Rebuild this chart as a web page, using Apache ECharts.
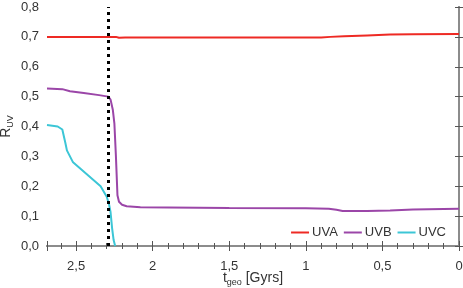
<!DOCTYPE html>
<html><head><meta charset="utf-8">
<script src="https://cdn.jsdelivr.net/npm/echarts@6/dist/echarts.min.js"></script>
<style>html,body{margin:0;padding:0;background:#fff}#c{width:463px;height:288px}</style>
</head><body><div id="c"></div>
<script>
var uva = [[2.69,0.700],[2.30,0.700],[2.24,0.700],[2.22,0.697],[2.18,0.698],[1.5,0.698],[0.9,0.698],[0.84,0.700],[0.75,0.702],[0.6,0.705],[0.45,0.708],[0.3,0.709],[0.0,0.710]];
var uvb = [[2.69,0.527],[2.59,0.525],[2.54,0.518],[2.45,0.512],[2.35,0.505],[2.29,0.500],[2.275,0.490],[2.26,0.455],[2.25,0.410],[2.24,0.300],[2.23,0.170],[2.22,0.148],[2.20,0.138],[2.17,0.133],[2.08,0.130],[1.9,0.129],[1.5,0.127],[1.0,0.126],[0.85,0.125],[0.80,0.121],[0.76,0.117],[0.6,0.117],[0.45,0.119],[0.3,0.122],[0.0,0.125]];
var uvc = [[2.69,0.405],[2.62,0.400],[2.59,0.390],[2.57,0.345],[2.56,0.320],[2.52,0.280],[2.43,0.240],[2.34,0.200],[2.30,0.165],[2.285,0.140],[2.275,0.113],[2.265,0.060],[2.255,0.020],[2.245,0.000]];
var yTicks = ['0,0','0,1','0,2','0,3','0,4','0,5','0,6','0,7','0,8'];
var xTickVals = [0,0.5,1,1.5,2,2.5];
var xTickText = ['0','0,5','1','1,5','2','2,5'];
var dashedX = 2.29;

var chart = echarts.init(document.getElementById('c'), null, {renderer:'canvas'});
var axisCol = '#8c8c8c';
function fmtX(v){ var i = xTickVals.findIndex(function(t){return Math.abs(t-v)<1e-6;}); return i>=0 ? xTickText[i] : ''; }
function fmtY(v){ var i = Math.round(v*10); return yTicks[i] || ''; }
var richName = {
  a:{fontSize:14,color:'#333',fontFamily:'Liberation Sans',lineHeight:16,verticalAlign:'top'},
  b:{fontSize:9,color:'#333',fontFamily:'Liberation Sans',lineHeight:10,verticalAlign:'bottom'}
};
chart.setOption({
  animation:false,
  grid:{left:47,right:4,top:7,bottom:42,containLabel:false,outerBoundsMode:'none'},
  textStyle:{fontFamily:'Liberation Sans, Arial, sans-serif'},
  legend:{
    right:12, top:221, itemGap:6, itemWidth:18, itemHeight:2, icon:'rect',
    textStyle:{fontSize:13,color:'#333',fontFamily:'Liberation Sans',padding:[0,0,0,-2]},
    data:['UVA','UVB','UVC']
  },
  xAxis:[{
    type:'value', inverse:true, min:0, max:2.69, interval:0.5,
    axisLine:{show:true,lineStyle:{color:axisCol,width:2}},
    axisTick:{show:true,inside:true,length:5,lineStyle:{color:'#555'}},
    minorTick:{show:true,splitNumber:5,length:3,lineStyle:{color:'#555'}},
    splitLine:{show:false},
    axisLabel:{formatter:fmtX,fontSize:13,color:'#333',margin:14,showMaxLabel:false},
    name:'{a|t}{b|geo}{a| [Gyrs]}', nameLocation:'middle', nameGap:25, nameMoveOverlap:false,
    nameTextStyle:{rich:richName}
  },{
    type:'value', inverse:true, min:0, max:2.69, interval:0.5, position:'top',
    axisLine:{show:true,lineStyle:{color:axisCol,width:2}},
    axisTick:{show:true,inside:true,length:5,lineStyle:{color:'#555'}},
    minorTick:{show:true,splitNumber:5,length:3,lineStyle:{color:'#555'}},
    splitLine:{show:false}, axisLabel:{show:false}
  }],
  yAxis:[{
    type:'value', min:0, max:0.8, interval:0.1,
    axisLine:{show:true,lineStyle:{color:axisCol,width:2}},
    axisTick:{show:true,inside:true,length:4,lineStyle:{color:'#555'}},
    splitLine:{show:false},
    axisLabel:{formatter:fmtY,fontSize:13,color:'#333',margin:8},
    name:'{a|R}{b|UV}', nameLocation:'middle', nameGap:32, nameRotate:90, nameMoveOverlap:false,
    nameTextStyle:{rich:richName}
  },{
    type:'value', min:0, max:0.8, interval:0.1, position:'right',
    axisLine:{show:true,lineStyle:{color:axisCol,width:2}},
    axisTick:{show:true,inside:true,length:4,lineStyle:{color:'#555'}},
    splitLine:{show:false}, axisLabel:{show:false}
  }],
  series:[
    {name:'UVA',type:'line',data:uva,showSymbol:false,symbol:'none',lineStyle:{color:'#ee2a24',width:2},itemStyle:{color:'#ee2a24'},
     markLine:{silent:true,symbol:'none',label:{show:false},lineStyle:{color:'#000',width:3,type:[3,4]},data:[{xAxis:dashedX}]}},
    {name:'UVB',type:'line',data:uvb,showSymbol:false,symbol:'none',lineStyle:{color:'#9b46a8',width:2},itemStyle:{color:'#9b46a8'}},
    {name:'UVC',type:'line',data:uvc,showSymbol:false,symbol:'none',lineStyle:{color:'#3cc6d6',width:2},itemStyle:{color:'#3cc6d6'}}
  ]
});
</script></body></html>
